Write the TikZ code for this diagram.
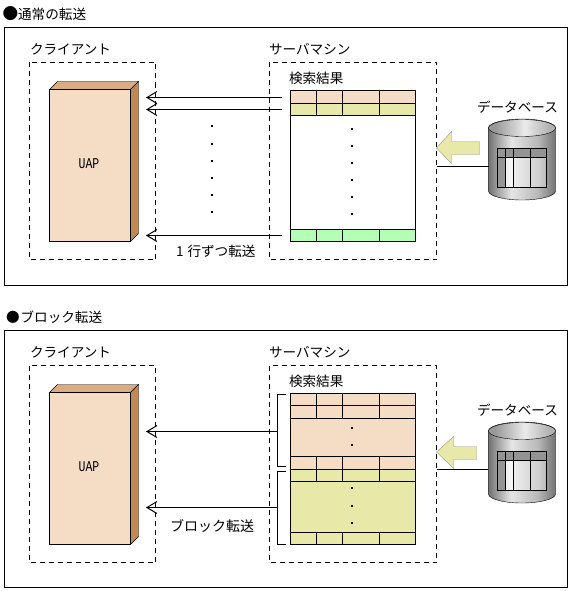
\documentclass[tikz,border=0pt]{standalone}
\usepackage{fontspec}
\usetikzlibrary{arrows.meta}
\setmainfont{Noto Sans CJK JP}[Scale=1]
\newfontfamily\uapfont{Liberation Mono}
\definecolor{peach}{HTML}{F5DCC5}
\definecolor{tantop}{HTML}{D9AC82}
\definecolor{tanside}{HTML}{C08A55}
\definecolor{olive}{HTML}{E8E8A8}
\definecolor{mint}{HTML}{B4FFB4}
\definecolor{blockgray}{HTML}{979797}
\pgfdeclarehorizontalshading{dbside}{100bp}{
  color(0bp)=(white!45!black); color(25bp)=(white!45!black);
  color(42bp)=(white!90!black); color(62bp)=(white!72!black);
  color(75bp)=(white!45!black); color(100bp)=(white!45!black)}
\pgfdeclarehorizontalshading{dbtop}{100bp}{
  color(0bp)=(white!60!black); color(30bp)=(white!60!black);
  color(52bp)=(white!92!black); color(70bp)=(white!70!black); color(100bp)=(white!70!black)}
\tikzset{
  x=1pt,y=-1pt,
  line width=1pt,
  every node/.style={outer sep=0pt},
  txt/.style={inner sep=0pt,font=\fontsize{13.6}{14}\selectfont,anchor=west},
  uaptxt/.style={inner sep=0pt,font=\uapfont\fontsize{11.5}{12}\selectfont},
  frame/.style={draw,inner sep=0pt},
  dashbox/.style={draw,dash pattern=on 5pt off 4pt},
  cell/.style={draw},
  conn/.style={-{Straight Barb[length=10pt,width=12pt,line width=1pt]}},
  dotmark/.style={fill,inner sep=0pt,minimum size=2pt,rectangle},
  flow/.style={draw=blockgray,fill=olive},
}
\newcommand{\client}[2]{% prefix, y offset
  \draw[dashbox] (29.5,62.5+#2) rectangle (155.5,259.5+#2);
  \node[txt] (#1clab) at (30,49+#2) {クライアント};
  \filldraw[fill=tantop] (49.5,89.5+#2) -- (57.5,81.5+#2) -- (138.5,81.5+#2) -- (130.5,89.5+#2) -- cycle;
  \filldraw[fill=tanside] (130.5,89.5+#2) -- (138.5,81.5+#2) -- (138.5,233.5+#2) -- (130.5,241.5+#2) -- cycle;
  \node[draw,fill=peach,inner sep=0pt,minimum width=81pt,minimum height=152pt] (#1uap) at (90,165.5+#2) {};
  \node[uaptxt] (#1uaptext) at (89,164+#2) {\scalebox{1}[1.3]{UAP}};
}
\newcommand{\dbase}[2]{% prefix, y offset
  \node[txt] (#1dblab) at (477,107+#2) {データベース};
  \begin{scope}[yshift=-#2 pt]
    \path[shade,shading=dbside,draw=black] (488.5,128) -- (488.5,191) arc[start angle=180,end angle=360,x radius=33.5,y radius=-9] -- (555.5,128) arc[start angle=0,end angle=-180,x radius=33.5,y radius=9];
    \path[shade,shading=dbtop,draw=black] (522,128) ellipse[x radius=33.5,y radius=8.5];
    \fill[white,opacity=.35] (497.5,148.5) rectangle (546.5,187.5);
    \fill[white,opacity=.5] (505.5,157.5) rectangle (513.5,187.5);
    \fill[white!58!black] (497.5,148.5) rectangle (546.5,157.5);
    \fill[white!58!black] (497.5,157.5) rectangle (505.5,187.5);
    \draw (497.5,148.5) rectangle (546.5,187.5);
    \draw (497.5,157.5) -- (546.5,157.5);
    \draw (505.5,148.5) -- (505.5,187.5);
    \draw (513.5,148.5) -- (513.5,187.5);
    \draw (530.5,148.5) -- (530.5,187.5);
  \end{scope}
}
\newcommand{\rowcells}[4]{% ytop, ybottom, colour, name
  \node[cell,fill=#3,inner sep=0pt,minimum width=26pt,minimum height={(#2-#1)*1pt},anchor=north west] (#4a) at (290.5,#1) {};
  \node[cell,fill=#3,inner sep=0pt,minimum width=26pt,minimum height={(#2-#1)*1pt},anchor=north west] (#4b) at (316.5,#1) {};
  \node[cell,fill=#3,inner sep=0pt,minimum width=37pt,minimum height={(#2-#1)*1pt},anchor=north west] (#4c) at (342.5,#1) {};
  \node[cell,fill=#3,inner sep=0pt,minimum width=36pt,minimum height={(#2-#1)*1pt},anchor=north west] (#4d) at (379.5,#1) {};
}
\begin{document}
\begin{tikzpicture}
\useasboundingbox (0,0) rectangle (570,591);
\fill[white] (0,0) rectangle (570,591);

% ---------- upper panel ----------
\node[txt] (title1) at (2.5,14) {\scalebox{1.15}{●}通常の転送};
\node[frame,minimum width=562.5pt,minimum height=258pt,anchor=north west] (panel1) at (4.5,27.5) {};
\client{a}{0}
\draw[dashbox] (269.5,62.5) rectangle (436.5,259.5);
\node[txt] (aslab) at (269,49) {サーバマシン};
\node[txt] (arlab) at (289,78) {検索結果};
\node[draw,fill=white,inner sep=0pt,minimum width=125pt,minimum height=151pt,anchor=north west] (atable) at (290.5,90.5) {};
\rowcells{90.5}{103.5}{peach}{ar1}
\rowcells{103.5}{115.5}{olive}{ar2}
\rowcells{229.5}{241.5}{mint}{ar3}
\foreach \i/\yy in {1/129,2/146,3/163,4/180,5/197,6/214}{\node[dotmark] (atd\i) at (351.5,\yy) {};}
\foreach \i/\yy in {1/126,2/144,3/161,4/178,5/195,6/212}{\node[dotmark] (amd\i) at (212,\yy) {};}
\coordinate (as1) at (282,97.5); \coordinate (ae1) at (146,97.5);
\coordinate (as2) at (282,109.5); \coordinate (ae2) at (146,109.5);
\coordinate (as3) at (282,235.5); \coordinate (ae3) at (146,235.5);
\draw[conn] (as1) -- (ae1);
\draw[conn] (as2) -- (ae2);
\draw[conn] (as3) -- (ae3);
\node[txt] (axfer) at (176,251) {1\hspace{4pt}行ずつ転送};
\dbase{a}{0}
\coordinate (al1) at (436.5,166.5); \coordinate (al2) at (488.5,166.5);
\draw (al1) -- (al2);
\draw[flow] (436.5,148) -- (451.5,131.5) -- (451.5,141.5) -- (479.5,141.5) -- (479.5,154.5) -- (451.5,154.5) -- (451.5,163.5) -- cycle;

% ---------- lower panel ----------
\node[txt] (title2) at (6,317) {●\hspace{1pt}ブロック転送};
\node[frame,minimum width=562.5pt,minimum height=257pt,anchor=north west] (panel2) at (4.5,330.5) {};
\client{b}{303}
\draw[dashbox] (269.5,365.5) rectangle (436.5,562.5);
\node[txt] (bslab) at (269,352) {サーバマシン};
\node[txt] (brlab) at (289,381) {検索結果};
\node[draw,fill=peach,inner sep=0pt,minimum width=125pt,minimum height=75.5pt,anchor=north west] (btable1) at (290.5,393.5) {};
\node[draw,fill=olive,inner sep=0pt,minimum width=125pt,minimum height=75pt,anchor=north west] (btable2) at (290.5,469.5) {};
\rowcells{393.5}{405.5}{peach}{br1}
\rowcells{405.5}{418.5}{peach}{br2}
\rowcells{456.5}{469.5}{peach}{br3}
\rowcells{469.5}{481.5}{olive}{br4}
\rowcells{532.5}{544.5}{olive}{br5}
\foreach \i/\yy in {1/428,2/445,3/488,4/505.5,5/523}{\node[dotmark] (btd\i) at (351.5,\yy) {};}
\draw (285.5,394.5) -- (277.5,394.5) -- (277.5,466.5) -- (285.5,466.5);
\draw (285.5,471.5) -- (277.5,471.5) -- (277.5,544.5) -- (285.5,544.5);
\coordinate (bs1) at (277.5,431.5); \coordinate (be1) at (146,431.5);
\coordinate (bs2) at (277.5,507.5); \coordinate (be2) at (146,507.5);
\draw[conn] (bs1) -- (be1);
\draw[conn] (bs2) -- (be2);
\node[txt,font=\fontsize{14}{14}\selectfont] (bxfer) at (170,526) {ブロック転送};
\dbase{b}{303}
\coordinate (bl1) at (436.5,469.5); \coordinate (bl2) at (487.5,469.5);
\draw (bl1) -- (bl2);
\draw[flow] (436.5,452) -- (453.5,436.5) -- (453.5,446.5) -- (476.5,446.5) -- (476.5,459.5) -- (453.5,459.5) -- (453.5,468.5) -- cycle;
\end{tikzpicture}
\end{document}
